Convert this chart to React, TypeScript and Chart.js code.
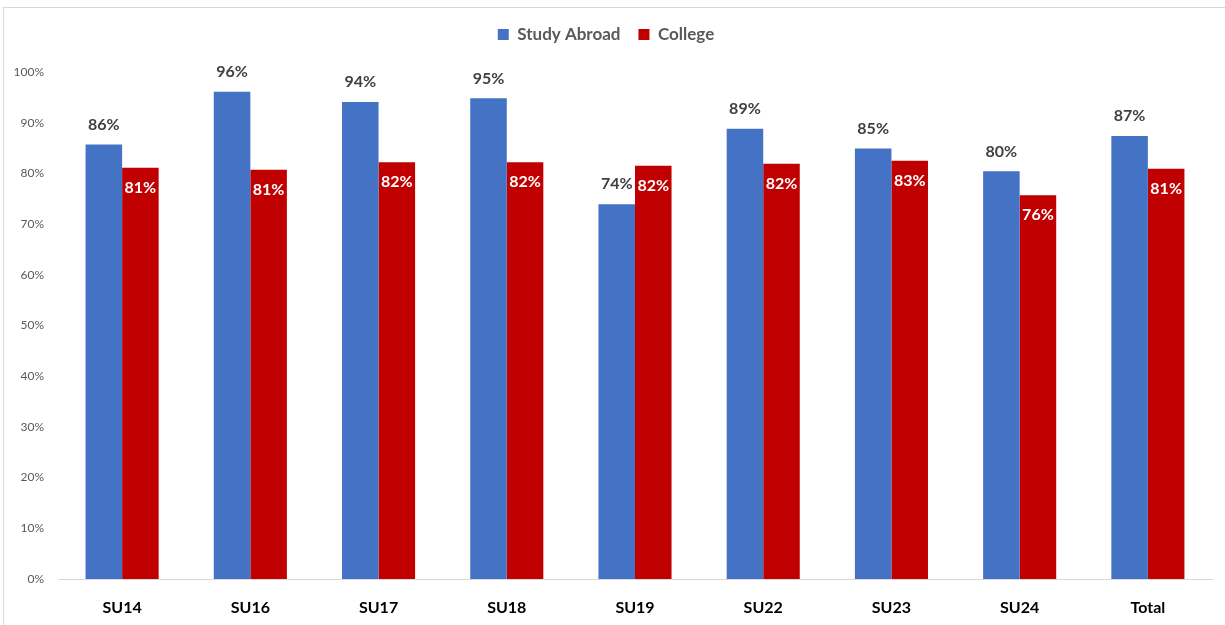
import React, { useEffect, useRef } from "react";
import { Chart, registerables } from "chart.js";

Chart.register(...registerables);

const categories = ["SU14", "SU16", "SU17", "SU18", "SU19", "SU22", "SU23", "SU24", "Total"];
const studyAbroad = [85.7, 96.1, 94.1, 94.8, 73.9, 88.8, 84.9, 80.4, 87.4];
const college = [81.1, 80.7, 82.2, 82.2, 81.5, 81.9, 82.5, 75.7, 80.9];
const yTicks = [0, 10, 20, 30, 40, 50, 60, 70, 80, 90, 100];

const FONT = "Lato, 'Open Sans', sans-serif";

const labelPlugin = {
  id: "barLabels",
  afterDatasetsDraw(chart: any) {
    const ctx = chart.ctx;
    ctx.save();
    ctx.font = `bold 16px ${FONT}`;
    ctx.textAlign = "center";
    ctx.textBaseline = "middle";
    chart.data.datasets.forEach((ds: any, di: number) => {
      const meta = chart.getDatasetMeta(di);
      meta.data.forEach((bar: any, i: number) => {
        const v = Math.round(ds.data[i]);
        const txt = `${v}%`;
        if (di === 0) {
          ctx.fillStyle = "#404040";
          ctx.fillText(txt, bar.x, bar.y - 20);
        } else {
          ctx.fillStyle = "#ffffff";
          ctx.fillText(txt, bar.x, bar.y + 20);
        }
      });
    });
    ctx.restore();
  },
};

export default function App() {
  const ref = useRef<HTMLCanvasElement>(null);
  useEffect(() => {
    document.body.style.margin = "0";
    const chart = new Chart(ref.current!, {
      type: "bar",
      data: {
        labels: categories,
        datasets: [
          { label: "Study Abroad", data: studyAbroad, backgroundColor: "#4472c4", borderWidth: 0 },
          { label: "College", data: college, backgroundColor: "#c00000", borderWidth: 0 },
        ],
      },
      options: {
        responsive: false,
        animation: false,
        layout: { padding: { left: 0, right: 13, top: 8, bottom: 0 } },
        datasets: { bar: { categoryPercentage: 0.57, barPercentage: 1 } } as any,
        plugins: {
          legend: {
            position: "top",
            weight: 3000,
            labels: {
              boxWidth: 11,
              boxHeight: 11,
              color: "#595959",
              font: { family: FONT, size: 17, weight: "bold" },
              padding: 18,
            },
          } as any,
          title: {
            display: true,
            text: "",
            position: "top",
            font: { size: 1, lineHeight: 1 },
            padding: { top: 0, bottom: 18 },
          },
          tooltip: { enabled: false },
        },
        scales: {
          x: {
            grid: { display: false, drawTicks: false },
            border: { display: true, color: "#d9d9d9", width: 1 },
            ticks: { color: "#000000", font: { family: FONT, size: 16, weight: "bold" }, padding: 19 },
            afterFit(scale: any) {
              scale.height = 46;
            },
          },
          y: {
            min: 0,
            max: 100,
            afterBuildTicks(scale: any) {
              scale.ticks = yTicks.map((v) => ({ value: v }));
            },
            grid: { display: false, drawTicks: false },
            border: { display: false },
            ticks: {
              color: "#595959",
              font: { family: FONT, size: 12 },
              padding: 14,
              callback: (v: any) => `${v}%`,
            },
            afterFit(scale: any) {
              scale.width = 58;
            },
          },
        },
      },
      plugins: [labelPlugin],
    });
    return () => chart.destroy();
  }, []);
  return (
    <div style={{ position: "fixed", left: 0, top: 0, width: 1225, height: 625, overflow: "hidden", background: "#fff" }}>
      <div
        style={{
          position: "absolute",
          left: 3,
          top: 7,
          width: 1240,
          height: 640,
          border: "1px solid #d9d9d9",
          boxSizing: "border-box",
        }}
      />
      <canvas ref={ref} width={1225} height={625} style={{ position: "absolute", left: 0, top: 0 }} />
    </div>
  );
}
